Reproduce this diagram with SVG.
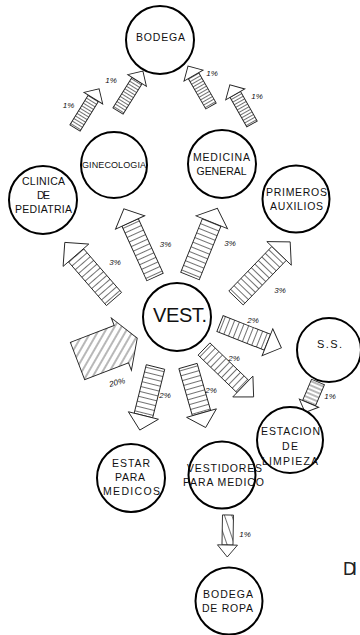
<svg xmlns="http://www.w3.org/2000/svg" width="360" height="635" viewBox="0 0 360 635">
<style>
.node circle{fill:#fff;stroke:#000;stroke-width:2}
.node text{font-family:"Liberation Sans",Arial,sans-serif;font-size:10.5px;fill:#111;text-anchor:middle}
.ar rect,.ar polygon{stroke:#222;stroke-width:0.9;stroke-linejoin:miter}
.ar polygon{fill:#fff}
.ar polygon.hatch{fill:url(#dC)}
.pct{font-family:"Liberation Sans",Arial,sans-serif;font-size:8px;font-style:italic;fill:#111;text-anchor:middle}
</style>
<defs>
<pattern id="s3" width="3" height="10" patternUnits="userSpaceOnUse"><line x1="1.5" y1="0" x2="1.5" y2="10" stroke="#333" stroke-width="0.7"/></pattern>
<pattern id="s4" width="4" height="10" patternUnits="userSpaceOnUse"><line x1="2" y1="0" x2="2" y2="10" stroke="#333" stroke-width="0.7"/></pattern>
<pattern id="s5" width="5" height="10" patternUnits="userSpaceOnUse"><line x1="2.5" y1="0" x2="2.5" y2="10" stroke="#333" stroke-width="0.7"/></pattern>
<pattern id="dC" width="6" height="10" patternUnits="userSpaceOnUse" patternTransform="rotate(51)"><line x1="3" y1="0" x2="3" y2="10" stroke="#333" stroke-width="0.7"/></pattern>
<pattern id="dE" width="7" height="10" patternUnits="userSpaceOnUse" patternTransform="rotate(70)"><line x1="3.5" y1="0" x2="3.5" y2="10" stroke="#333" stroke-width="0.7"/></pattern>
</defs>
<rect width="360" height="635" fill="#fff"/>
<g id="connectors">
<g class="ar" transform="translate(75,128) rotate(-58.4)"><rect x="0" y="-6" width="35" height="12" fill="url(#s3)"/><polygon points="35,-11 46,0 35,11"/></g>
<g class="ar" transform="translate(118,111) rotate(-58)"><rect x="0" y="-6" width="36" height="12" fill="url(#s3)"/><polygon points="36,-11 47,0 36,11"/></g>
<g class="ar" transform="translate(211,106) rotate(-120)"><rect x="0" y="-6" width="35" height="12" fill="url(#s3)"/><polygon points="35,-11 46,0 35,11"/></g>
<g class="ar" transform="translate(252,124) rotate(-119.5)"><rect x="0" y="-6" width="34" height="12" fill="url(#s3)"/><polygon points="34,-11 45,0 34,11"/></g>
<g class="ar" transform="translate(114,299) rotate(-131)"><rect x="0" y="-10" width="58" height="20" fill="url(#s5)"/><polygon points="58,-17 75,0 58,17"/></g>
<g class="ar" transform="translate(155,277) rotate(-114.5)"><rect x="0" y="-9" width="60" height="18" fill="url(#s5)"/><polygon points="60,-16 75,0 60,16"/></g>
<g class="ar" transform="translate(190,276) rotate(-68)"><rect x="0" y="-10" width="58" height="20" fill="url(#s5)"/><polygon points="58,-17 73,0 58,17"/></g>
<g class="ar" transform="translate(236,298) rotate(-46)"><rect x="0" y="-10" width="62" height="20" fill="url(#s5)"/><polygon points="62,-17 78,0 62,17"/></g>
<g class="ar" transform="translate(77.5,361) rotate(-21)"><polygon class="hatch" points="0,-20 47,-20 47,-28 64,0 47,28 47,20 0,20"/></g>
<g class="ar" transform="translate(155.5,367) rotate(104)"><rect x="0" y="-9.5" width="50" height="19" fill="url(#s5)"/><polygon points="50,-15.5 65,0 50,15.5"/></g>
<g class="ar" transform="translate(188,366) rotate(74)"><rect x="0" y="-9.5" width="49" height="19" fill="url(#s5)"/><polygon points="49,-15.5 64,0 49,15.5"/></g>
<g class="ar" transform="translate(204,349) rotate(44)"><rect x="0" y="-8.5" width="54" height="17" fill="url(#s5)"/><polygon points="54,-14.5 69,0 54,14.5"/></g>
<g class="ar" transform="translate(220,323.5) rotate(21.6)"><rect x="0" y="-8.5" width="51" height="17" fill="url(#s5)"/><polygon points="51,-14.5 66,0 51,14.5"/></g>
<g class="ar" transform="translate(318,382) rotate(113)"><rect x="0" y="-7" width="23" height="14" fill="url(#s4)"/><polygon points="23,-10.5 33,0 23,10.5"/></g>
<g class="ar" transform="translate(228,515) rotate(91)"><rect x="0" y="-5.5" width="30" height="11" fill="url(#dE)"/><polygon points="30,-10 42,0 30,10"/></g>
<text class="pct" x="68.5" y="108">1%</text>
<text class="pct" x="111" y="83">1%</text>
<text class="pct" x="212" y="76">1%</text>
<text class="pct" x="257" y="99">1%</text>
<text class="pct" x="115" y="265">3%</text>
<text class="pct" x="165.5" y="247">3%</text>
<text class="pct" x="230" y="246">3%</text>
<text class="pct" x="280" y="293">3%</text>
<text class="pct" x="117" y="385" transform="rotate(-15 117 382)">20%</text>
<text class="pct" x="165" y="398">2%</text>
<text class="pct" x="211" y="393">2%</text>
<text class="pct" x="234" y="361">2%</text>
<text class="pct" x="253" y="323">2%</text>
<text class="pct" x="330" y="399">1%</text>
<text class="pct" x="245" y="537">1%</text>
</g>
<g id="bodega" class="node"><circle cx="160" cy="40" r="34"/><text x="160.5" y="41" font-size="11.5" textLength="49">BODEGA</text></g>
<g id="ginecologia" class="node"><circle cx="114" cy="165" r="33"/><text x="114" y="168" style="font-size:9px" textLength="64">GINECOLOGIA</text></g>
<g id="pediatria" class="node"><circle cx="43" cy="200" r="34"/><text x="43.5" y="185" textLength="43">CLINICA</text><text x="43.5" y="198.5" textLength="13">DE</text><text x="43.5" y="213" textLength="57">PEDIATRIA</text></g>
<g id="medicina" class="node"><circle cx="222" cy="164" r="34"/><text x="221.5" y="161" textLength="57">MEDICINA</text><text x="221.5" y="175" textLength="50">GENERAL</text></g>
<g id="primeros" class="node"><circle cx="296" cy="199" r="33.5"/><text x="296.5" y="196" textLength="61">PRIMEROS</text><text x="296.5" y="210" textLength="53">AUXILIOS</text></g>
<g id="vest" class="node"><circle cx="177" cy="317" r="34"/><text x="180" y="322" style="font-size:20px" textLength="54">VEST.</text></g>
<g id="ss" class="node"><circle cx="329" cy="350" r="32"/><text x="329.5" y="348" style="font-size:11px" textLength="25">S.S.</text></g>
<g id="estacion" class="node"><circle cx="290" cy="440" r="33"/><text x="290.5" y="435" textLength="59">ESTACION</text><text x="290" y="450" textLength="16">DE</text><text x="290" y="465" textLength="56">LIMPIEZA</text></g>
<g id="estar" class="node"><circle cx="131" cy="478" r="34"/><text x="131" y="467" textLength="38">ESTAR</text><text x="130" y="481" textLength="30">PARA</text><text x="131.5" y="495" textLength="57">MEDICOS</text></g>
<g id="vestidores" class="node"><circle cx="222" cy="475" r="33.5"/><text x="224.5" y="472" textLength="75">VESTIDORES</text><text x="223.5" y="486" textLength="81">PARA MEDICO</text></g>
<g id="bodega-ropa" class="node"><circle cx="229" cy="601" r="33.5"/><text x="228" y="598" textLength="50">BODEGA</text><text x="227.5" y="612" textLength="51">DE ROPA</text></g>
<text x="343" y="575" font-family="Liberation Sans, Arial, sans-serif" font-size="18" fill="#222" textLength="14">DI</text>
</svg>
